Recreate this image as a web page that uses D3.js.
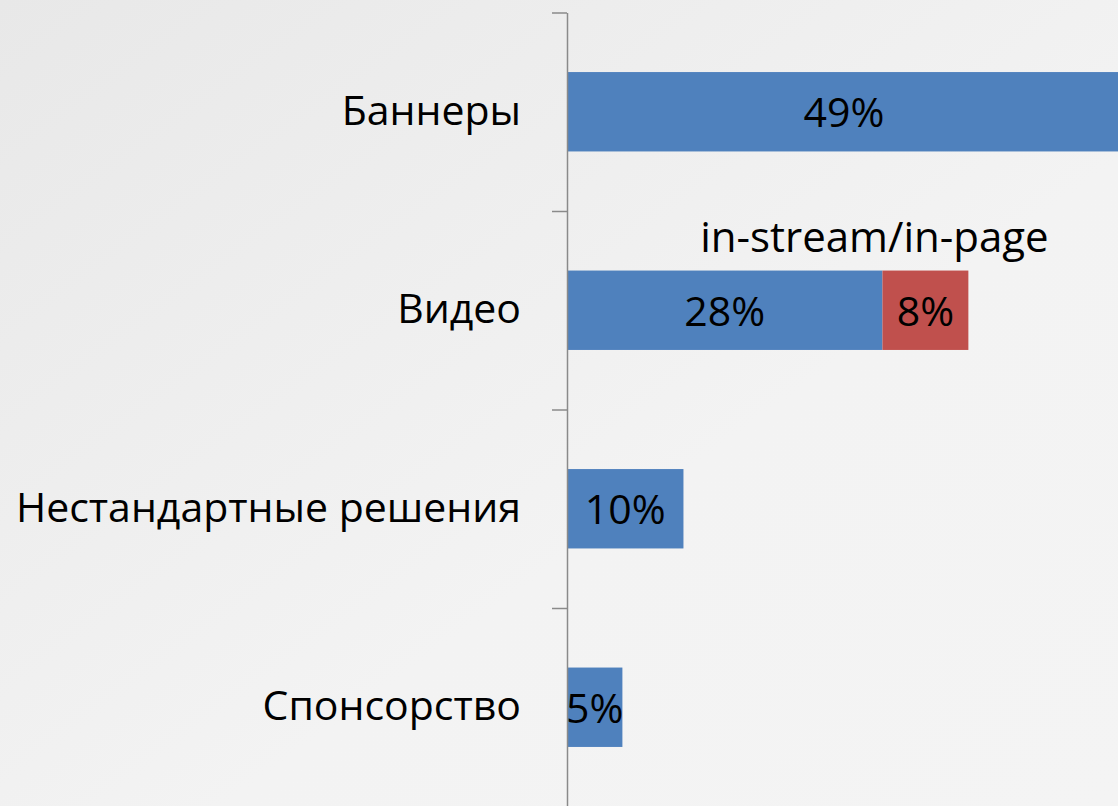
<!DOCTYPE html>
<html>
<head>
<meta charset="utf-8">
<title>Форматы рекламы</title>
<style>
  body { margin: 0; overflow: hidden; }
  svg { display: block; }
  text { font-family: "Open Sans", "Noto Sans", sans-serif; fill: #000; }
  .axis path, .axis line { fill: none; stroke: #8a8a8a; stroke-width: 1.5px; }
</style>
</head>
<body>
<script src="https://cdn.jsdelivr.net/npm/d3@7"></script>
<script>

// data (percent)
var categories = ["Баннеры", "Видео", "Нестандартные решения", "Спонсорство"];
var mainValues = [49, 27.9, 10.3, 4.9];
var mainLabels = ["49%", "28%", "10%", "5%"];
var extraValues = [0, 7.6, 0, 0];      // in-page part of the video bar
var extraLabels = ["", "8%", "", ""];
var seriesNote = "in-stream/in-page";

var width = 1118, height = 806;
var fontSize = "41px";

var svg = d3.select("body").append("svg")
    .attr("width", width)
    .attr("height", height);

var grad = svg.append("defs").append("linearGradient")
    .attr("id", "bg")
    .attr("x1", "0%").attr("y1", "0%")
    .attr("x2", "100%").attr("y2", "100%");
grad.append("stop").attr("offset", "0%").attr("stop-color", "#e8e8e8");
grad.append("stop").attr("offset", "60%").attr("stop-color", "#f3f3f3");
grad.append("stop").attr("offset", "100%").attr("stop-color", "#f4f4f4");

svg.append("rect")
    .attr("width", width)
    .attr("height", height)
    .attr("fill", "url(#bg)");

var x = d3.scaleLinear()
    .domain([0, 49])
    .range([567, 1121]);

var y = d3.scaleBand()
    .domain(categories)
    .range([12.5, 806.5])
    .paddingInner(0.6)
    .paddingOuter(0.3);

// boundaries between categories carry the tick marks
var yEdge = d3.scaleLinear()
    .domain([0, categories.length])
    .range([12.5, 806.5]);

var rows = categories.map(function (c, i) {
  return { name: c, v: mainValues[i], lab: mainLabels[i], e: extraValues[i], elab: extraLabels[i] };
});

// main series
svg.selectAll(".bar")
    .data(rows)
  .enter().append("rect")
    .attr("class", "bar")
    .attr("x", x(0))
    .attr("y", function (d) { return y(d.name); })
    .attr("width", function (d) { return x(d.v) - x(0); })
    .attr("height", y.bandwidth())
    .attr("fill", "#4f81bd");

// second series (stacked)
svg.selectAll(".bar2")
    .data(rows.filter(function (d) { return d.e > 0; }))
  .enter().append("rect")
    .attr("class", "bar2")
    .attr("x", function (d) { return x(d.v); })
    .attr("y", function (d) { return y(d.name); })
    .attr("width", function (d) { return x(d.v + d.e) - x(d.v); })
    .attr("height", y.bandwidth())
    .attr("fill", "#c0504d");

// value labels
svg.selectAll(".lab")
    .data(rows)
  .enter().append("text")
    .attr("class", "lab")
    .attr("x", function (d) { return (x(0) + x(d.v)) / 2; })
    .attr("y", function (d) { return y(d.name) + y.bandwidth() / 2; })
    .attr("dy", "0.38em")
    .attr("text-anchor", "middle")
    .style("font-size", fontSize)
    .text(function (d) { return d.lab; });

svg.selectAll(".lab2")
    .data(rows.filter(function (d) { return d.e > 0; }))
  .enter().append("text")
    .attr("class", "lab2")
    .attr("x", function (d) { return (x(d.v) + x(d.v + d.e)) / 2; })
    .attr("y", function (d) { return y(d.name) + y.bandwidth() / 2; })
    .attr("dy", "0.38em")
    .attr("text-anchor", "middle")
    .style("font-size", fontSize)
    .text(function (d) { return d.elab; });

// note above the video bar
svg.append("text")
    .attr("x", x(mainValues[1]) - 8)
    .attr("y", y(categories[1]) - 19)
    .attr("text-anchor", "middle")
    .style("font-size", "42px")
    .text(seriesNote);

// axis line with boundary ticks
svg.append("g")
    .attr("class", "axis")
    .attr("transform", "translate(" + x(0) + ",0)")
    .call(d3.axisLeft(yEdge)
      .tickValues(d3.range(categories.length + 1))
      .tickSize(15)
      .tickSizeOuter(0)
      .tickFormat(""));

// category labels
var gy = svg.append("g")
    .attr("transform", "translate(" + x(0) + ",0)")
    .call(d3.axisLeft(y).tickSize(0).tickPadding(46));
gy.select(".domain").remove();
gy.selectAll("text")
    .style("font-size", fontSize)
    .style("font-family", "'Open Sans', 'Noto Sans', sans-serif")
    .attr("fill", "#000");

</script>
</body>
</html>
